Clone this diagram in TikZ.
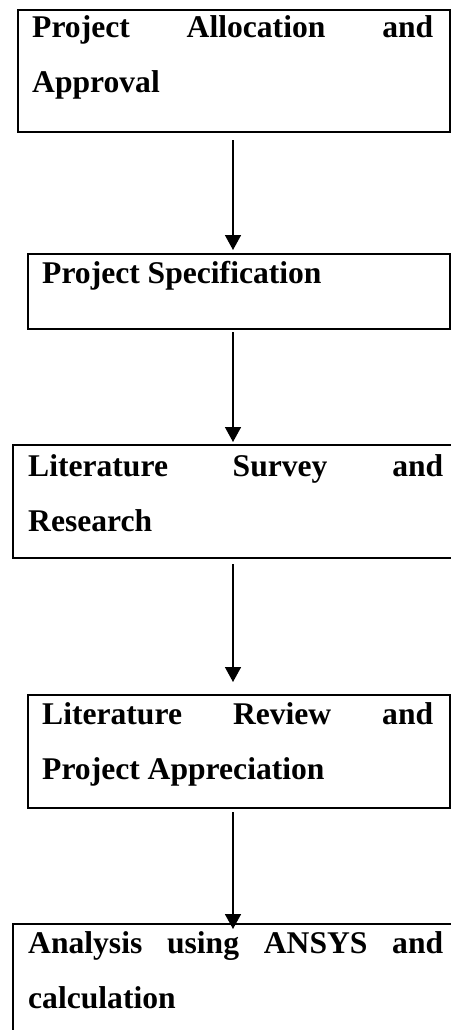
\documentclass[tikz,border=0pt]{standalone}
\usepackage{fontspec}
\setmainfont{Liberation Serif}
\usepackage{tikz}
\usetikzlibrary{arrows.meta}
\tikzstyle{stagebox}=[draw, line width=2pt, anchor=north west, inner sep=0pt]
\tikzstyle{stagetext}=[anchor=base west, inner sep=0pt, align=justify, font=\fontsize{31.6}{55}\selectfont\bfseries]
\tikzstyle{flow}=[line width=1.6pt, -{Triangle[length=15pt,width=16pt]}]

\begin{document}
\begin{tikzpicture}[x=1pt, y=1pt]
		   \useasboundingbox (0, 0) rectangle (450, -1030);
		   \begin{scope}
			   \node (1) at (17, -9)[stagebox, minimum width=432pt, minimum height=122pt] {};
			   \node (2) at (27, -253)[stagebox, minimum width=422pt, minimum height=75pt] {};
			   \node (3) at (12, -444)[stagebox, minimum width=460pt, minimum height=113pt] {};
			   \node (4) at (27, -694)[stagebox, minimum width=422pt, minimum height=113pt] {};
			   \node (5) at (12, -923)[stagebox, minimum width=460pt, minimum height=130pt] {};
		   \end{scope}
		   \begin{scope}
			   \node (t1) at (32, -38)[stagetext, text width=401pt] {Project Allocation and\linebreak Approval};
			   \node (t2) at (42, -283)[stagetext, text width=391pt] {Project Specification};
			   \node (t3) at (28, -476)[stagetext, text width=415pt] {Literature Survey and\linebreak Research};
			   \node (t4) at (42, -724)[stagetext, text width=391pt] {Literature Review and\linebreak Project Appreciation};
			   \node (t5) at (28, -953)[stagetext, text width=415pt] {Analysis using ANSYS and\linebreak calculation};
		   \end{scope}
		   \begin{scope}
			   \coordinate (ax) at (233, 0);
			   \draw [flow, shorten <=7pt, shorten >=3pt] (1.south -| ax) -- (2.north -| ax);
			   \draw [flow, shorten <=2pt, shorten >=2pt] (2.south -| ax) -- (3.north -| ax);
			   \draw [flow, shorten <=5pt, shorten >=12pt] (3.south -| ax) -- (4.north -| ax);
			   \draw [flow, shorten <=3pt, shorten >=-6pt] (4.south -| ax) -- (5.north -| ax);
		   \end{scope}
	   \end{tikzpicture}
\end{document}
